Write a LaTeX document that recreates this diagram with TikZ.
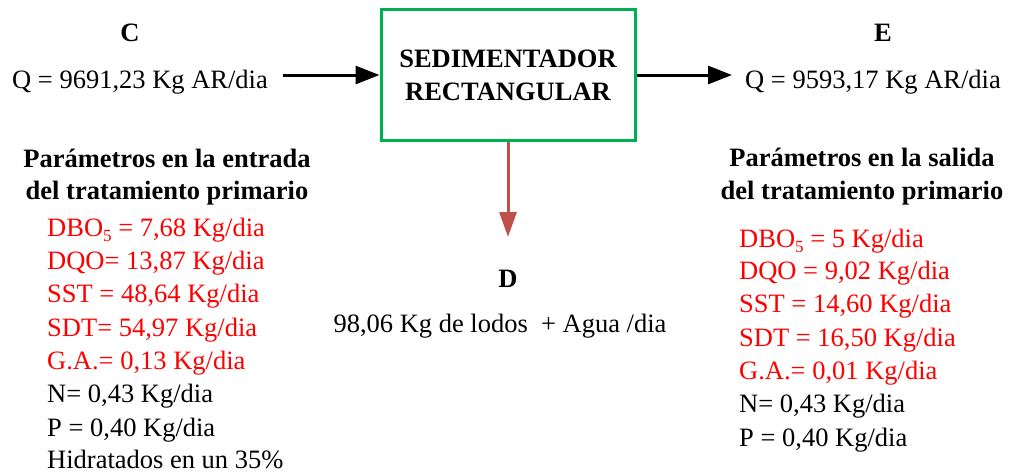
\documentclass[tikz,border=0pt]{standalone}
\usepackage{fontspec}
\setmainfont{LiberationSerif}[Extension=.ttf, UprightFont=*-Regular, BoldFont=*-Bold, ItalicFont=*-Italic, BoldItalicFont=*-BoldItalic]
\usetikzlibrary{arrows.meta}
\definecolor{boxgreen}{RGB}{0,176,80}
\definecolor{arrowred}{RGB}{192,80,77}
\definecolor{txtred}{RGB}{255,0,0}
\newcommand\myfs{\fontsize{26.5}{32}\selectfont}
\newcommand\subfive{\raisebox{-5pt}{\fontsize{17}{20}\selectfont 5}}
\begin{document}
\begin{tikzpicture}[x=1pt,y=-1pt,
  lbl/.style={font=\myfs, inner sep=0pt, anchor=base west},
  ctr/.style={font=\myfs, inner sep=0pt, anchor=base},
  hdr/.style={font=\myfs\bfseries, inner sep=0pt, anchor=base},
  flow/.style={line width=3pt, -{Triangle[length=24pt,width=18pt]}}]
\useasboundingbox (0,0) rectangle (1010,472);
% box
\node[draw=boxgreen, line width=3pt, minimum width=254pt, minimum height=131pt, inner sep=0pt] (box) at (508,74.5) {};
\node[hdr] (t1) at (508,67) {SEDIMENTADOR};
\node[hdr] (t2) at (508,100) {RECTANGULAR};
% inflow
\node[hdr] (C) at (130,41) {C};
\node[ctr] (Qin) at (140,88) {Q = 9691,23 Kg AR/dia};
\coordinate (ain) at (283,75);
\draw[flow] (ain) -- (box.west |- ain);
% outflow
\node[hdr] (E) at (883,41) {E};
\node[lbl] (Qout) at (745,88) {Q = 9593,17 Kg AR/dia};
\coordinate (aout) at (732,75);
\draw[flow] (box.east |- aout) -- (aout);
% sludge
\coordinate (asl) at (508,237);
\draw[line width=3pt, draw=arrowred, -{Triangle[length=25pt,width=17pt]}, arrowred] (box.south -| asl) -- (asl);
\node[hdr] (D) at (508,287) {D};
\node[ctr] (lodos) at (500,332) {98,06 Kg de lodos\ \ + Agua /dia};
% left block
\node[hdr] (lh1) at (167,167) {Parámetros en la entrada};
\node[hdr] (lh2) at (167,199) {del tratamiento primario};
\node[lbl, text=txtred] (l1) at (47,236) {DBO\subfive\ = 7,68 Kg/dia};
\node[lbl, text=txtred] (l2) at (47,269) {DQO= 13,87 Kg/dia};
\node[lbl, text=txtred] (l3) at (47,302) {SST = 48,64 Kg/dia};
\node[lbl, text=txtred] (l4) at (47,336) {SDT= 54,97 Kg/dia};
\node[lbl, text=txtred] (l5) at (47,369) {G.A.= 0,13 Kg/dia};
\node[lbl] (l6) at (47,402) {N= 0,43 Kg/dia};
\node[lbl] (l7) at (47,436) {P = 0,40 Kg/dia};
\node[lbl] (l8) at (47,468) {Hidratados en un 35\%};
% right block
\node[hdr] (rh1) at (862,166) {Parámetros en la salida};
\node[hdr] (rh2) at (862,199) {del tratamiento primario};
\node[lbl, text=txtred] (r1) at (739,247) {DBO\subfive\ = 5 Kg/dia};
\node[lbl, text=txtred] (r2) at (739,279) {DQO = 9,02 Kg/dia};
\node[lbl, text=txtred] (r3) at (739,312) {SST = 14,60 Kg/dia};
\node[lbl, text=txtred] (r4) at (739,346) {SDT = 16,50 Kg/dia};
\node[lbl, text=txtred] (r5) at (739,379) {G.A.= 0,01 Kg/dia};
\node[lbl] (r6) at (739,412) {N= 0,43 Kg/dia};
\node[lbl] (r7) at (739,446) {P = 0,40 Kg/dia};
\end{tikzpicture}
\end{document}
